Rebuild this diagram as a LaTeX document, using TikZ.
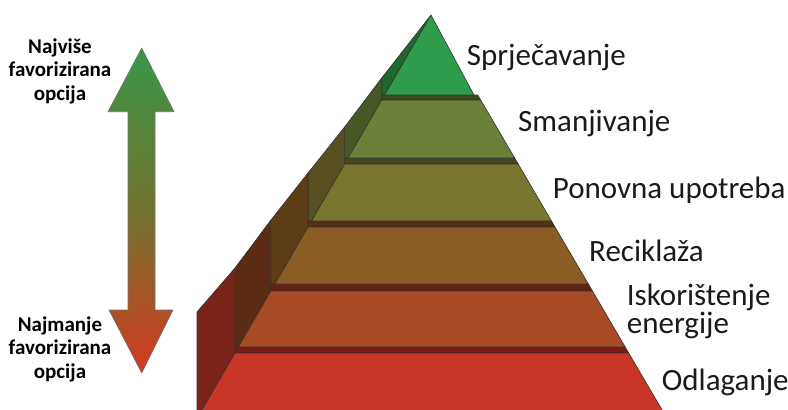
\documentclass[tikz,border=0pt]{standalone}
\usepackage{fontspec}
\setmainfont{Carlito}
\definecolor{triF}{RGB}{46,156,74}
\definecolor{triS}{RGB}{30,104,48}
\definecolor{stA}{RGB}{56,78,30}
\definecolor{bBF}{RGB}{107,128,56}
\definecolor{bBS}{RGB}{72,88,36}
\definecolor{stB}{RGB}{72,70,28}
\definecolor{bCF}{RGB}{120,117,47}
\definecolor{bCS}{RGB}{88,80,32}
\definecolor{stC}{RGB}{90,46,18}
\definecolor{bDF}{RGB}{140,92,37}
\definecolor{bDS}{RGB}{94,60,20}
\definecolor{stD}{RGB}{106,30,14}
\definecolor{bEF}{RGB}{166,75,37}
\definecolor{bES}{RGB}{92,44,18}
\definecolor{stE}{RGB}{122,26,18}
\definecolor{bFF}{RGB}{201,53,38}
\definecolor{bFS}{RGB}{122,36,24}
\definecolor{arTop}{RGB}{58,152,72}
\definecolor{arMid}{RGB}{112,114,46}
\definecolor{arLow}{RGB}{178,82,40}
\definecolor{arBot}{RGB}{212,58,34}
\definecolor{txt}{RGB}{26,26,26}
\begin{document}
\begin{tikzpicture}[x=1pt,y=-1pt,
  facet/.style={draw=black!80, line width=0.6pt, line join=round},
  lab/.style={inner sep=0pt, text=txt, font=\fontsize{31}{26}\selectfont, align=left},
  llab/.style={inner sep=0pt, text=black, font=\bfseries\fontsize{21}{23.5}\selectfont, align=center}]
\useasboundingbox (0,0) rectangle (788,410);

% double arrow
\shade[draw=black!55, line width=0.6pt, line join=round,
  top color=arTop, bottom color=arBot, middle color=arMid]
  (141.7,48) -- (174,111.7) -- (155,111.7) -- (155,310) -- (173,310) -- (141.7,373)
  -- (109,310) -- (128,310) -- (128,111.7) -- (108,111.7) -- cycle;

% side faces
\fill[triS, facet] (431,15) -- (381.7,78) -- (381.7,95) -- (384.6,95) -- cycle;
\fill[bBS, facet] (381.7,100) -- (381.7,78) -- (344.6,127) -- (344.6,158) -- (348.1,158) -- cycle;
\fill[bCS, facet] (344.6,164) -- (344.6,127) -- (308,173) -- (308,221) -- (311.5,221) -- cycle;
\fill[bDS, facet] (308,227) -- (308,173) -- (270.9,220) -- (270.9,284) -- (275,284) -- cycle;
\fill[bES, facet] (270.9,291) -- (270.9,220) -- (235,268) -- (235,347) -- (238.4,347) -- cycle;
\fill[bFS, facet] (235,353) -- (235,268) -- (197,312) -- (197,412) -- (201.9,412) -- cycle;

% strips
\fill[stA, facet] (381.7,95) -- (477.8,95) -- (480.7,100) -- (381.7,100) -- cycle;
\fill[stB, facet] (344.6,158) -- (514.7,158) -- (518.2,164) -- (344.6,164) -- cycle;
\fill[stC, facet] (308,221) -- (551.5,221) -- (555,227) -- (308,227) -- cycle;
\fill[stD, facet] (270.9,284) -- (588.4,284) -- (592.5,291) -- (270.9,291) -- cycle;
\fill[stE, facet] (235,347) -- (625.2,347) -- (628.7,353) -- (235,353) -- cycle;

% front faces
\fill[triF, facet] (431,15) -- (474,95) -- (384.6,95) -- cycle;
\fill[bBF, facet] (381.7,100) -- (480.7,100) -- (514.7,158) -- (348.1,158) -- cycle;
\fill[bCF, facet] (344.6,164) -- (518.2,164) -- (551.5,221) -- (311.5,221) -- cycle;
\fill[bDF, facet] (308,227) -- (555,227) -- (588.4,284) -- (275,284) -- cycle;
\fill[bEF, facet] (270.9,291) -- (592.5,291) -- (625.2,347) -- (238.4,347) -- cycle;
\fill[bFF, facet] (235,353) -- (628.7,353) -- (663.3,412) -- (200.8,412) -- cycle;

% labels
\node[lab, anchor=base west] (l1) at (466.7,65) {Sprječavanje};
\node[lab, anchor=base west] (l2) at (518,131.7) {Smanjivanje};
\node[lab, anchor=base west] (l3) at (552.7,198) {Ponovna upotreba};
\node[lab, anchor=base west] (l4) at (589,261.7) {Reciklaža};
\node[lab, anchor=base west] (l5) at (626.7,333) {Iskorištenje\\energije};
\node[lab, anchor=base west] (l6) at (661.7,390) {Odlaganje};

\node[llab, anchor=base] (top) at (60,100) {Najviše\\favorizirana\\opcija};
\node[llab, anchor=base] (bot) at (60,378) {Najmanje\\favorizirana\\opcija};
\end{tikzpicture}
\end{document}
